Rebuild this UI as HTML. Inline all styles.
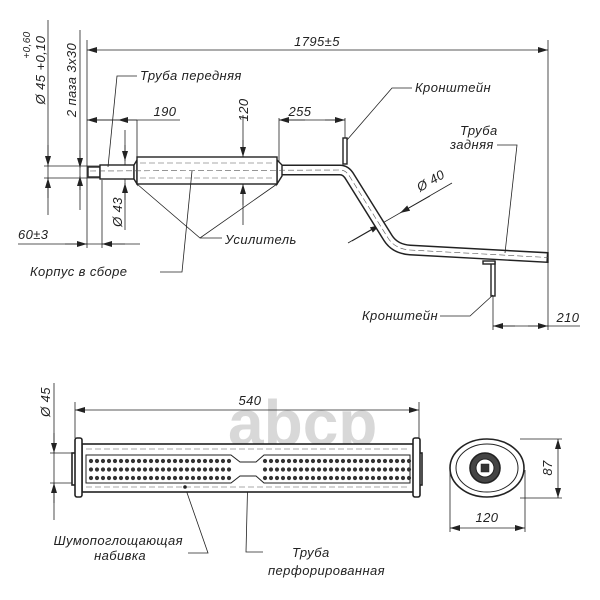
<!DOCTYPE html>
<html><head><meta charset="utf-8"><style>
html,body{margin:0;padding:0;background:#fff}
svg{display:block}
text{font-family:"Liberation Sans",sans-serif;font-style:italic;fill:#222}
</style></head><body>
<svg width="600" height="600" viewBox="0 0 600 600" xmlns="http://www.w3.org/2000/svg">
<defs>
<marker id="a" viewBox="0 0 10 6" refX="10" refY="3" markerWidth="10" markerHeight="6" orient="auto-start-reverse" markerUnits="userSpaceOnUse"><path d="M0,0 L10,3 L0,6z" fill="#222"/></marker>
<pattern id="p" x="88" y="457" width="6" height="8.5" patternUnits="userSpaceOnUse"><circle cx="3" cy="4" r="2.1" fill="#333"/></pattern>
</defs>
<text x="228" y="445" font-size="64" font-weight="bold" style="font-style:normal;fill:#d8d8d8">abcp</text>
<g stroke="#222" stroke-width="0.8" fill="none">
<line x1="87" y1="40" x2="87" y2="248"/>
<line x1="548" y1="40" x2="548" y2="330"/>
<line x1="87" y1="50" x2="548" y2="50" marker-start="url(#a)" marker-end="url(#a)"/>
<line x1="48" y1="20" x2="48" y2="215"/>
<line x1="80" y1="30" x2="80" y2="210"/>
<line x1="44" y1="166" x2="100" y2="166"/>
<line x1="44" y1="178" x2="100" y2="178"/>
<line x1="48" y1="145" x2="48" y2="166" marker-end="url(#a)"/>
<line x1="48" y1="198" x2="48" y2="178" marker-end="url(#a)"/>
<line x1="80" y1="150" x2="80" y2="168" marker-end="url(#a)"/>
<line x1="80" y1="190" x2="80" y2="176" marker-end="url(#a)"/>
<line x1="87" y1="120" x2="180" y2="120"/>
<line x1="87" y1="120" x2="118" y2="120" marker-start="url(#a)"/>
<line x1="118" y1="120" x2="137" y2="120" marker-start="url(#a)"/>
<line x1="137" y1="120" x2="137" y2="157"/>
<line x1="125" y1="130" x2="125" y2="230"/>
<line x1="125" y1="145" x2="125" y2="161" marker-end="url(#a)"/>
<line x1="125" y1="200" x2="125" y2="183" marker-end="url(#a)"/>
<line x1="102" y1="180" x2="102" y2="248"/>
<line x1="18" y1="244" x2="140" y2="244"/>
<line x1="65" y1="244" x2="87" y2="244" marker-end="url(#a)"/>
<line x1="125" y1="244" x2="102" y2="244" marker-end="url(#a)"/>
<line x1="243" y1="115" x2="243" y2="225"/>
<line x1="243" y1="140" x2="243" y2="157" marker-end="url(#a)"/>
<line x1="243" y1="205" x2="243" y2="184" marker-end="url(#a)"/>
<line x1="279" y1="118" x2="279" y2="165"/>
<line x1="345" y1="118" x2="345" y2="140"/>
<line x1="279" y1="120" x2="305" y2="120" marker-start="url(#a)"/>
<line x1="279" y1="120" x2="345" y2="120"/>
<line x1="325" y1="120" x2="345" y2="120" marker-end="url(#a)"/>
<line x1="348" y1="243" x2="452" y2="183"/>
<line x1="352" y1="241" x2="380" y2="225" marker-end="url(#a)"/>
<line x1="430" y1="196" x2="400" y2="213" marker-end="url(#a)"/>
<line x1="493" y1="295" x2="493" y2="330"/>
<line x1="493" y1="326" x2="580" y2="326"/>
<line x1="493" y1="326" x2="515" y2="326" marker-start="url(#a)"/>
<line x1="528" y1="326" x2="548" y2="326" marker-end="url(#a)"/>
</g>
<path d="M280,170 L340,170 Q346,170 350,177 L388,238 Q395,249 410,250 L548,257.5" fill="none" stroke="#222" stroke-width="11" stroke-linejoin="round"/>
<path d="M278,170 L340,170 Q346,170 350,177 L388,238 Q395,249 410,250 L546.6,257.5" fill="none" stroke="#fff" stroke-width="8" stroke-linejoin="round"/>
<line x1="548" y1="252" x2="548" y2="263" stroke="#222" stroke-width="1.4"/>
<g stroke="#222" stroke-width="1.4" fill="#fff">
<rect x="88" y="167" width="12" height="10"/>
<rect x="100" y="165" width="34" height="14"/>
<path d="M134,165 L137,160 L137,184 L134,179z"/>
<path d="M277,160 L282,165 L282,176 L277,184z"/>
<rect x="137" y="157" width="140" height="27"/>
<rect x="343" y="138" width="4" height="26"/>
<rect x="491" y="262" width="4" height="34"/>
<rect x="483" y="261" width="12" height="3"/>
</g>
<g stroke="#555" stroke-width="0.6" stroke-dasharray="6,3" fill="none">
<line x1="140" y1="163" x2="275" y2="163"/>
<line x1="140" y1="178" x2="275" y2="178"/>
<path d="M90,171 L340,170 Q346,170 350,177 L388,238 Q395,249 410,250 L548,257.5"/>
</g>
<g stroke="#222" stroke-width="0.8" fill="none">
<path d="M137,76 L117,76 L108,167"/>
<path d="M412,88 L392,88 L347,140"/>
<path d="M497,145 L517,145 L505,253"/>
<path d="M137,184 L200,238 L277,184"/>
<path d="M200,238 L222,238"/>
<path d="M160,272 L182,272 L192,171"/>
<path d="M440,316 L470,316 L493,295"/>
</g>
<g font-size="13" letter-spacing="0.4">
<text x="140" y="80">Труба передняя</text>
<text x="165" y="116" text-anchor="middle">190</text>
<text x="0" y="0" transform="translate(248,110) rotate(-90)" text-anchor="middle">120</text>
<text x="300" y="116" text-anchor="middle">255</text>
<text x="317" y="46" text-anchor="middle">1795±5</text>
<text x="415" y="92">Кронштейн</text>
<text x="460" y="135">Труба</text>
<text x="450" y="149">задняя</text>
<text x="0" y="0" transform="translate(420,192) rotate(-30)">Ø 40</text>
<text x="225" y="244">Усилитель</text>
<text x="30" y="276">Корпус в сборе</text>
<text x="18" y="239">60±3</text>
<text x="0" y="0" transform="translate(122,212) rotate(-90)" text-anchor="middle">Ø 43</text>
<text x="0" y="0" transform="translate(45,70) rotate(-90)" text-anchor="middle">Ø 45 +0,10</text>
<text x="0" y="0" transform="translate(30,45) rotate(-90)" text-anchor="middle" font-size="10">+0,60</text>
<text x="0" y="0" transform="translate(76,80) rotate(-90)" text-anchor="middle">2 паза 3х30</text>
<text x="362" y="320">Кронштейн</text>
<text x="568" y="322" text-anchor="middle">210</text>
</g>
<g stroke="#222" stroke-width="0.8" fill="none">
<line x1="54" y1="383" x2="54" y2="520"/>
<line x1="50" y1="453" x2="80" y2="453"/>
<line x1="50" y1="483" x2="80" y2="483"/>
<line x1="54" y1="433" x2="54" y2="453" marker-end="url(#a)"/>
<line x1="54" y1="503" x2="54" y2="483" marker-end="url(#a)"/>
<line x1="75" y1="402" x2="75" y2="438"/>
<line x1="419" y1="402" x2="419" y2="438"/>
<line x1="75" y1="410" x2="419" y2="410" marker-start="url(#a)" marker-end="url(#a)"/>
<line x1="520" y1="439" x2="562" y2="439"/>
<line x1="520" y1="498" x2="562" y2="498"/>
<line x1="558" y1="439" x2="558" y2="498" marker-start="url(#a)" marker-end="url(#a)"/>
<line x1="450" y1="470" x2="450" y2="532"/>
<line x1="525" y1="470" x2="525" y2="532"/>
<line x1="450" y1="528" x2="525" y2="528" marker-start="url(#a)" marker-end="url(#a)"/>
<path d="M188,553 L208,553 L185,487"/>
<path d="M263,552 L246,552 L248,470"/>
</g>
<g stroke="#222" stroke-width="1.6" fill="#fff">
<rect x="72" y="453" width="8" height="32"/>
<rect x="414" y="453" width="8" height="32"/>
<rect x="82" y="444" width="332" height="48"/>
<rect x="75" y="438" width="7" height="59" rx="2"/>
<rect x="413" y="438" width="7" height="59" rx="2"/>
<path d="M86,455 L231,455 L240,462 L256,462 L264,455 L410,455 L410,483 L264,483 L256,476 L240,476 L231,483 L86,483z" stroke-width="1"/>
<ellipse cx="487" cy="468" rx="37" ry="29"/>
<ellipse cx="487" cy="468" rx="31" ry="24" stroke-width="1"/>
<circle cx="485" cy="468" r="15" fill="#444"/>
<circle cx="485" cy="468" r="9" fill="#fff" stroke-width="1"/>
<rect x="481" y="464" width="8" height="8" fill="#333" stroke-width="0.5"/>
</g>
<g stroke="#555" stroke-width="0.6" stroke-dasharray="6,3"><line x1="86" y1="449" x2="410" y2="449"/><line x1="86" y1="487" x2="410" y2="487"/></g>
<rect x="88" y="457" width="144" height="26" fill="url(#p)"/>
<rect x="262" y="457" width="150" height="26" fill="url(#p)"/>
<circle cx="185" cy="487" r="1.8" fill="#222"/>
<g font-size="13" letter-spacing="0.4">
<text x="250" y="405" text-anchor="middle">540</text>
<text x="0" y="0" transform="translate(50,402) rotate(-90)" text-anchor="middle">Ø 45</text>
<text x="0" y="0" transform="translate(552,468) rotate(-90)" text-anchor="middle">87</text>
<text x="487" y="522" text-anchor="middle">120</text>
<text x="183" y="545" text-anchor="end">Шумопоглощающая</text>
<text x="146" y="560" text-anchor="end">набивка</text>
<text x="292" y="557">Труба</text>
<text x="268" y="575">перфорированная</text>
</g>
</svg>
</body></html>
